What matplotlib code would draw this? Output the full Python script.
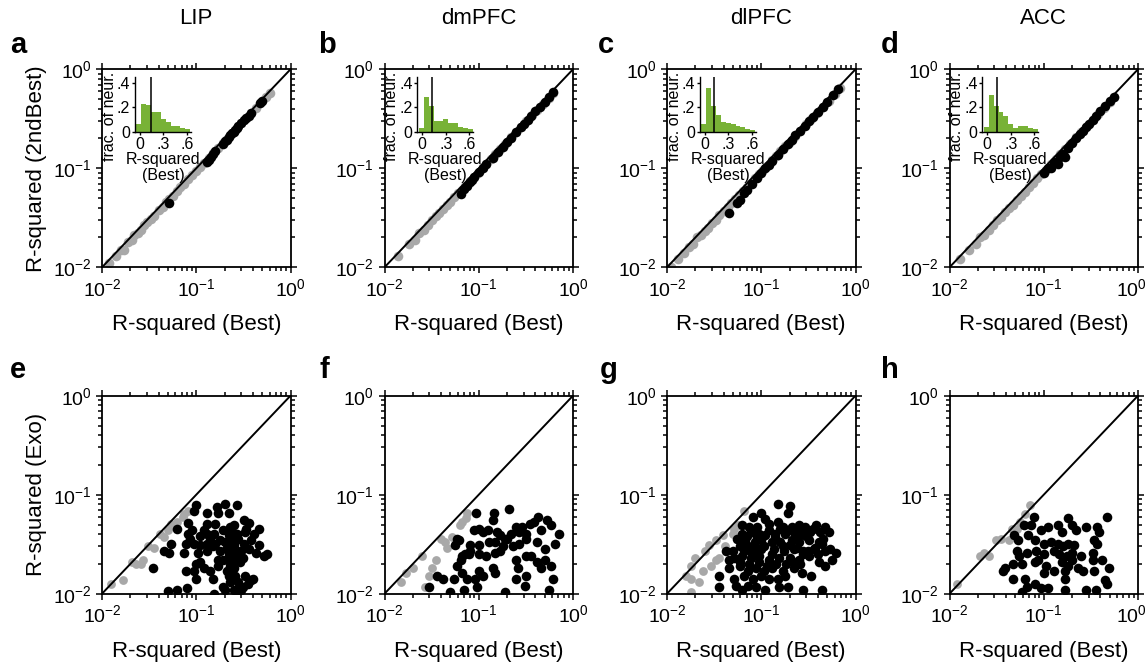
import numpy as np
import matplotlib.pyplot as plt
from matplotlib.transforms import ScaledTranslation

plt.rcParams['font.family'] = ['Liberation Sans', 'DejaVu Sans']
plt.rcParams['mathtext.fontset'] = 'custom'
plt.rcParams['mathtext.rm'] = 'Liberation Sans'
plt.rcParams['mathtext.it'] = 'Liberation Sans:italic'
plt.rcParams['mathtext.bf'] = 'Liberation Sans:bold'

# ---------------- data ----------------
areas = ['LIP', 'dmPFC', 'dlPFC', 'ACC']
top_letters = ['a', 'b', 'c', 'd']
bot_letters = ['e', 'f', 'g', 'h']

tick_vals = [0.01, 0.1, 1.0]
tick_labels = [r'$10^{-2}$', r'$10^{-1}$', r'$10^{0}$']

# inset histograms: R-squared (Best), fraction of neurons
hist_bins = [-0.01, 0.052, 0.114, 0.176, 0.238, 0.30, 0.362, 0.424, 0.486, 0.548, 0.61]
hist_width = 0.062
lip_hist = [0.06, 0.23, 0.22, 0.16, 0.16, 0.10, 0.08, 0.05, 0.05, 0.03, 0.02]
dmpfc_hist = [0.03, 0.28, 0.21, 0.09, 0.09, 0.10, 0.07, 0.07, 0.04, 0.03, 0.02]
dlpfc_hist = [0.06, 0.36, 0.21, 0.14, 0.08, 0.07, 0.06, 0.05, 0.04, 0.02, 0.01]
acc_hist = [0.04, 0.30, 0.21, 0.16, 0.13, 0.06, 0.03, 0.05, 0.045, 0.03, 0.02]
hist_medians = [0.15, 0.13, 0.12, 0.13]

# top row: Best vs 2ndBest
lip_top_gray_x = [0.012, 0.014, 0.016, 0.017, 0.019, 0.021, 0.022, 0.024, 0.026, 0.028,
                  0.030, 0.033, 0.036, 0.040, 0.044, 0.048, 0.052, 0.057, 0.062, 0.068,
                  0.075, 0.082, 0.090, 0.10, 0.11, 0.12, 0.135, 0.15, 0.17, 0.19,
                  0.21, 0.24, 0.27, 0.30, 0.34, 0.38, 0.43, 0.49, 0.55, 0.60]
lip_top_gray_y = [0.011, 0.013, 0.015, 0.015, 0.018, 0.019, 0.021, 0.022, 0.024, 0.027,
                  0.029, 0.031, 0.033, 0.038, 0.041, 0.046, 0.049, 0.053, 0.059, 0.064,
                  0.070, 0.078, 0.085, 0.094, 0.104, 0.113, 0.127, 0.142, 0.160, 0.180,
                  0.198, 0.226, 0.256, 0.285, 0.322, 0.360, 0.41, 0.47, 0.53, 0.58]
lip_top_black_x = [0.052, 0.13, 0.135, 0.145, 0.15, 0.16, 0.19, 0.2, 0.21, 0.22, 0.23, 0.24,
                   0.25, 0.26, 0.27, 0.28, 0.3, 0.32, 0.34, 0.36, 0.38, 0.48, 0.5]
lip_top_black_y = [0.045, 0.115, 0.12, 0.13, 0.138, 0.148, 0.178, 0.188, 0.195, 0.205, 0.215, 0.225,
                   0.235, 0.245, 0.255, 0.265, 0.285, 0.305, 0.32, 0.34, 0.36, 0.46, 0.48]

dmpfc_top_gray_x = [0.014, 0.018, 0.021, 0.023, 0.026, 0.029, 0.032, 0.035, 0.038, 0.042,
                    0.046, 0.05, 0.055, 0.06, 0.066, 0.072, 0.08, 0.088, 0.097, 0.11,
                    0.12, 0.135, 0.15, 0.17, 0.19, 0.22, 0.25, 0.28, 0.32, 0.37,
                    0.42, 0.48, 0.55, 0.62]
dmpfc_top_gray_y = [0.013, 0.017, 0.019, 0.022, 0.024, 0.027, 0.030, 0.033, 0.035, 0.039,
                    0.043, 0.046, 0.051, 0.056, 0.061, 0.067, 0.074, 0.082, 0.090, 0.102,
                    0.111, 0.125, 0.139, 0.158, 0.177, 0.205, 0.233, 0.26, 0.30, 0.345,
                    0.39, 0.45, 0.51, 0.58]
dmpfc_top_black_x = [0.065, 0.07, 0.075, 0.08, 0.085, 0.09, 0.1, 0.11, 0.12, 0.14, 0.16, 0.18,
                     0.2, 0.22, 0.25, 0.28, 0.3, 0.33, 0.36, 0.4, 0.45, 0.5, 0.55, 0.62]
dmpfc_top_black_y = [0.055, 0.062, 0.066, 0.072, 0.077, 0.081, 0.091, 0.1, 0.11, 0.128, 0.147, 0.166,
                     0.185, 0.204, 0.232, 0.26, 0.28, 0.31, 0.335, 0.375, 0.42, 0.47, 0.52, 0.59]

dlpfc_top_gray_x = [0.011, 0.013, 0.015, 0.017, 0.019, 0.021, 0.023, 0.025, 0.027, 0.03,
                    0.033, 0.036, 0.04, 0.044, 0.048, 0.053, 0.058, 0.064, 0.07, 0.077,
                    0.085, 0.094, 0.105, 0.115, 0.13, 0.145, 0.16, 0.18, 0.2, 0.23,
                    0.26, 0.3, 0.34, 0.39, 0.45, 0.52, 0.6, 0.68]
dlpfc_top_gray_y = [0.010, 0.012, 0.014, 0.016, 0.017, 0.020, 0.021, 0.023, 0.025, 0.028,
                    0.030, 0.034, 0.037, 0.041, 0.045, 0.049, 0.054, 0.059, 0.065, 0.071,
                    0.079, 0.087, 0.097, 0.106, 0.12, 0.134, 0.148, 0.167, 0.185, 0.213,
                    0.24, 0.28, 0.315, 0.36, 0.42, 0.48, 0.56, 0.64]
dlpfc_top_black_x = [0.045, 0.055, 0.06, 0.065, 0.07, 0.08, 0.09, 0.1, 0.11, 0.12, 0.13, 0.15, 0.17,
                     0.19, 0.21, 0.23, 0.26, 0.29, 0.32, 0.35, 0.4, 0.45, 0.5, 0.58, 0.66]
dlpfc_top_black_y = [0.035, 0.045, 0.048, 0.056, 0.06, 0.07, 0.08, 0.09, 0.1, 0.108, 0.118, 0.137, 0.155,
                     0.175, 0.195, 0.215, 0.24, 0.27, 0.3, 0.33, 0.37, 0.42, 0.47, 0.55, 0.63]

acc_top_gray_x = [0.013, 0.016, 0.019, 0.021, 0.023, 0.026, 0.029, 0.032, 0.035, 0.039,
                  0.043, 0.047, 0.052, 0.057, 0.063, 0.07, 0.077, 0.085, 0.094, 0.105,
                  0.12, 0.135, 0.15, 0.17, 0.19, 0.22, 0.25, 0.29, 0.33, 0.38,
                  0.44, 0.5, 0.56]
acc_top_gray_y = [0.012, 0.015, 0.017, 0.020, 0.021, 0.024, 0.027, 0.030, 0.032, 0.036,
                  0.040, 0.043, 0.048, 0.053, 0.058, 0.065, 0.071, 0.079, 0.087, 0.097,
                  0.111, 0.125, 0.139, 0.158, 0.177, 0.205, 0.233, 0.27, 0.31, 0.355,
                  0.41, 0.47, 0.53]
acc_top_black_x = [0.1, 0.11, 0.12, 0.13, 0.14, 0.15, 0.16, 0.17, 0.18, 0.2, 0.22,
                   0.24, 0.26, 0.28, 0.3, 0.33, 0.36, 0.4, 0.45, 0.5, 0.55]
acc_top_black_y = [0.09, 0.1, 0.1, 0.115, 0.11, 0.13, 0.14, 0.13, 0.16, 0.18, 0.2,
                   0.22, 0.24, 0.26, 0.28, 0.31, 0.34, 0.38, 0.43, 0.48, 0.53]

# bottom row: Best vs Exo
lip_bot_gray_x = [0.0125, 0.0167, 0.021, 0.026, 0.031, 0.036, 0.041, 0.046, 0.05, 0.054,
                  0.063, 0.072, 0.081, 0.075, 0.059, 0.023, 0.027]
lip_bot_gray_y = [0.0124, 0.0137, 0.021, 0.020, 0.030, 0.029, 0.040, 0.037, 0.044, 0.051,
                  0.053, 0.060, 0.069, 0.064, 0.047, 0.020, 0.022]
lip_bot_black_x = [0.10, 0.095, 0.13, 0.165, 0.20, 0.27, 0.22, 0.17, 0.082, 0.09,
                   0.063, 0.13, 0.16, 0.19, 0.23, 0.25, 0.32, 0.36, 0.46, 0.33,
                   0.27, 0.22, 0.078, 0.095, 0.11, 0.13, 0.16, 0.20, 0.25, 0.32,
                   0.38, 0.46, 0.046, 0.052, 0.074, 0.104, 0.13, 0.15, 0.18, 0.22,
                   0.30, 0.43, 0.52, 0.57, 0.054, 0.081, 0.13, 0.155, 0.10, 0.11,
                   0.095, 0.12, 0.14, 0.17, 0.19, 0.215, 0.23, 0.26, 0.31, 0.21,
                   0.23, 0.15, 0.10, 0.035, 0.078, 0.05, 0.063, 0.08, 0.155, 0.19,
                   0.20, 0.25, 0.27, 0.31, 0.35, 0.38, 0.23, 0.30, 0.23, 0.245,
                   0.225, 0.25, 0.22, 0.28, 0.26, 0.24, 0.34, 0.29, 0.33, 0.40,
                   0.27, 0.24, 0.21, 0.18, 0.14, 0.12, 0.28, 0.26, 0.17, 0.085,
                   0.11, 0.36, 0.41]
lip_bot_black_y = [0.078, 0.069, 0.066, 0.075, 0.081, 0.079, 0.066, 0.066, 0.052, 0.044,
                   0.045, 0.051, 0.051, 0.044, 0.047, 0.049, 0.055, 0.052, 0.045, 0.042,
                   0.040, 0.039, 0.032, 0.032, 0.031, 0.032, 0.032, 0.033, 0.032, 0.032,
                   0.035, 0.031, 0.027, 0.026, 0.026, 0.026, 0.027, 0.030, 0.027, 0.026,
                   0.027, 0.026, 0.024, 0.025, 0.032, 0.040, 0.040, 0.040, 0.020, 0.021,
                   0.017, 0.018, 0.017, 0.022, 0.022, 0.022, 0.019, 0.022, 0.023, 0.017,
                   0.016, 0.014, 0.014, 0.018, 0.017, 0.0106, 0.011, 0.0115, 0.010, 0.0117,
                   0.0108, 0.011, 0.011, 0.0117, 0.0126, 0.0137, 0.013, 0.0108, 0.036, 0.030,
                   0.024, 0.018, 0.015, 0.036, 0.028, 0.042, 0.045, 0.021, 0.015, 0.014,
                   0.025, 0.020, 0.029, 0.035, 0.036, 0.044, 0.013, 0.015, 0.019, 0.036,
                   0.038, 0.028, 0.040]

dmpfc_bot_gray_x = [0.017, 0.025, 0.027, 0.032, 0.035, 0.046, 0.044, 0.040, 0.063, 0.066,
                    0.075, 0.074, 0.052, 0.015, 0.020, 0.030]
dmpfc_bot_gray_y = [0.016, 0.024, 0.0118, 0.018, 0.022, 0.029, 0.033, 0.036, 0.049, 0.053,
                    0.066, 0.058, 0.037, 0.013, 0.018, 0.015]
dmpfc_bot_black_x = [0.094, 0.14, 0.21, 0.145, 0.059, 0.061, 0.056, 0.088, 0.10, 0.11,
                     0.125, 0.155, 0.17, 0.19, 0.15, 0.13, 0.10, 0.08, 0.08, 0.078,
                     0.067, 0.065, 0.059, 0.072, 0.10, 0.12, 0.15, 0.17, 0.18, 0.23,
                     0.25, 0.27, 0.29, 0.32, 0.35, 0.39, 0.43, 0.46, 0.53, 0.59,
                     0.71, 0.65, 0.51, 0.41, 0.32, 0.27, 0.25, 0.32, 0.36, 0.41,
                     0.50, 0.59, 0.46, 0.26, 0.32, 0.25, 0.31, 0.61, 0.55, 0.15,
                     0.14, 0.10, 0.11, 0.092, 0.096, 0.075, 0.067, 0.054, 0.042, 0.036,
                     0.030, 0.05, 0.069, 0.19, 0.20, 0.22]
dmpfc_bot_black_y = [0.066, 0.056, 0.071, 0.066, 0.036, 0.035, 0.031, 0.044, 0.045, 0.042,
                     0.044, 0.042, 0.039, 0.036, 0.033, 0.033, 0.031, 0.031, 0.027, 0.025,
                     0.024, 0.022, 0.019, 0.025, 0.025, 0.024, 0.026, 0.027, 0.030, 0.030,
                     0.047, 0.042, 0.047, 0.040, 0.051, 0.053, 0.060, 0.044, 0.055, 0.049,
                     0.040, 0.032, 0.028, 0.033, 0.036, 0.032, 0.022, 0.024, 0.024, 0.021,
                     0.022, 0.019, 0.018, 0.018, 0.015, 0.014, 0.012, 0.014, 0.011, 0.016,
                     0.018, 0.017, 0.015, 0.014, 0.0117, 0.014, 0.016, 0.014, 0.014, 0.015,
                     0.0118, 0.0105, 0.011, 0.0104, 0.036, 0.040]

dlpfc_bot_gray_x = [0.018, 0.018, 0.022, 0.024, 0.029, 0.033, 0.036, 0.018, 0.020, 0.025,
                    0.028, 0.033, 0.039, 0.041, 0.05, 0.052, 0.056, 0.066, 0.016]
dlpfc_bot_gray_y = [0.0104, 0.014, 0.013, 0.017, 0.019, 0.022, 0.023, 0.019, 0.023, 0.027,
                    0.031, 0.035, 0.039, 0.030, 0.040, 0.045, 0.049, 0.069, 0.015]
dlpfc_bot_black_x = [0.15, 0.20, 0.19, 0.10, 0.081, 0.11, 0.063, 0.075, 0.09, 0.12,
                     0.15, 0.17, 0.21, 0.25, 0.29, 0.38, 0.48, 0.52, 0.42, 0.33,
                     0.27, 0.22, 0.18, 0.14, 0.12, 0.094, 0.078, 0.063, 0.055, 0.068,
                     0.085, 0.10, 0.13, 0.16, 0.21, 0.25, 0.32, 0.41, 0.44, 0.53,
                     0.62, 0.48, 0.36, 0.28, 0.22, 0.175, 0.135, 0.108, 0.087, 0.072,
                     0.059, 0.05, 0.042, 0.052, 0.063, 0.078, 0.094, 0.12, 0.155, 0.20,
                     0.25, 0.32, 0.41, 0.48, 0.56, 0.046, 0.059, 0.072, 0.087, 0.108,
                     0.13, 0.17, 0.22, 0.27, 0.34, 0.036, 0.052, 0.066, 0.081, 0.10,
                     0.12, 0.15, 0.18, 0.036, 0.063, 0.087, 0.11, 0.155, 0.19, 0.28,
                     0.44, 0.054, 0.072, 0.046,
                     0.07, 0.09, 0.11, 0.14, 0.16, 0.19, 0.23, 0.26, 0.3, 0.35,
                     0.065, 0.08, 0.1, 0.13, 0.17, 0.2, 0.24, 0.28, 0.31, 0.37,
                     0.06, 0.075, 0.095, 0.115, 0.145, 0.185, 0.215, 0.26, 0.4, 0.45]
dlpfc_bot_black_y = [0.080, 0.077, 0.065, 0.065, 0.059, 0.057, 0.049, 0.047, 0.047, 0.051,
                     0.053, 0.047, 0.047, 0.049, 0.047, 0.049, 0.047, 0.042, 0.042, 0.042,
                     0.040, 0.042, 0.040, 0.040, 0.044, 0.040, 0.042, 0.040, 0.036, 0.035,
                     0.033, 0.035, 0.033, 0.033, 0.035, 0.033, 0.035, 0.033, 0.032, 0.028,
                     0.026, 0.027, 0.028, 0.027, 0.028, 0.027, 0.028, 0.030, 0.029, 0.030,
                     0.030, 0.027, 0.027, 0.023, 0.024, 0.023, 0.024, 0.022, 0.023, 0.023,
                     0.022, 0.024, 0.021, 0.019, 0.022, 0.018, 0.019, 0.017, 0.018, 0.017,
                     0.018, 0.017, 0.018, 0.016, 0.015, 0.015, 0.014, 0.015, 0.014, 0.015,
                     0.014, 0.014, 0.015, 0.0117, 0.011, 0.0117, 0.0108, 0.0117, 0.0117, 0.0108,
                     0.011, 0.012, 0.012, 0.022,
                     0.038, 0.037, 0.039, 0.037, 0.045, 0.044, 0.039, 0.043, 0.038, 0.045,
                     0.027, 0.026, 0.028, 0.025, 0.030, 0.031, 0.029, 0.025, 0.027, 0.029,
                     0.021, 0.020, 0.021, 0.019, 0.020, 0.020, 0.021, 0.020, 0.025, 0.036]

acc_bot_gray_x = [0.012, 0.021, 0.026, 0.023, 0.031, 0.035, 0.043, 0.046, 0.052, 0.056,
                  0.063, 0.072]
acc_bot_gray_y = [0.0124, 0.024, 0.024, 0.026, 0.035, 0.036, 0.035, 0.045, 0.045, 0.053,
                  0.064, 0.078]
acc_bot_black_x = [0.078, 0.18, 0.47, 0.061, 0.074, 0.094, 0.11, 0.14, 0.155, 0.20,
                   0.22, 0.28, 0.37, 0.39, 0.048, 0.053, 0.068, 0.081, 0.10, 0.12,
                   0.14, 0.16, 0.18, 0.21, 0.34, 0.37, 0.052, 0.066, 0.083, 0.10,
                   0.13, 0.145, 0.175, 0.20, 0.25, 0.33, 0.054, 0.047, 0.059, 0.08,
                   0.087, 0.105, 0.155, 0.18, 0.20, 0.33, 0.41, 0.49, 0.037, 0.039,
                   0.10, 0.13, 0.17, 0.23, 0.26, 0.34, 0.047, 0.064, 0.066, 0.08,
                   0.094, 0.11, 0.17, 0.17, 0.28, 0.36, 0.45, 0.47, 0.059]
acc_bot_black_y = [0.059, 0.058, 0.059, 0.049, 0.049, 0.044, 0.047, 0.049, 0.042, 0.049,
                   0.044, 0.047, 0.047, 0.042, 0.039, 0.035, 0.039, 0.035, 0.032, 0.033,
                   0.032, 0.030, 0.032, 0.031, 0.035, 0.032, 0.027, 0.026, 0.027, 0.025,
                   0.027, 0.025, 0.024, 0.026, 0.024, 0.026, 0.024, 0.020, 0.020, 0.021,
                   0.022, 0.019, 0.021, 0.019, 0.022, 0.022, 0.022, 0.018, 0.017, 0.018,
                   0.016, 0.017, 0.017, 0.018, 0.017, 0.017, 0.014, 0.014, 0.0117, 0.0126,
                   0.0113, 0.0113, 0.014, 0.011, 0.0108, 0.011, 0.0137, 0.0126, 0.0104]

top_gray = [(lip_top_gray_x, lip_top_gray_y), (dmpfc_top_gray_x, dmpfc_top_gray_y),
            (dlpfc_top_gray_x, dlpfc_top_gray_y), (acc_top_gray_x, acc_top_gray_y)]
top_black = [(lip_top_black_x, lip_top_black_y), (dmpfc_top_black_x, dmpfc_top_black_y),
             (dlpfc_top_black_x, dlpfc_top_black_y), (acc_top_black_x, acc_top_black_y)]
bot_gray = [(lip_bot_gray_x, lip_bot_gray_y), (dmpfc_bot_gray_x, dmpfc_bot_gray_y),
            (dlpfc_bot_gray_x, dlpfc_bot_gray_y), (acc_bot_gray_x, acc_bot_gray_y)]
bot_black = [(lip_bot_black_x, lip_bot_black_y), (dmpfc_bot_black_x, dmpfc_bot_black_y),
             (dlpfc_bot_black_x, dlpfc_bot_black_y), (acc_bot_black_x, acc_bot_black_y)]
hists = [lip_hist, dmpfc_hist, dlpfc_hist, acc_hist]

# ---------------- styles ----------------
GRAY = '#a8a8a8'
GREEN = '#78b236'
LABEL_FS = 16
TICK_FS = 14
INSET_FS = 11.5

W, H = 1146, 663
fig = plt.figure(figsize=(W / 100, H / 100), dpi=100)

col_left = [102, 384.5, 667, 949.5]
ax_w = 188.5
ax_h = 198
row_top = [69.3, 395.7]


def style_main(ax):
    ax.set_xscale('log')
    ax.set_yscale('log')
    ax.set_xlim(0.01, 1)
    ax.set_ylim(0.01, 1)
    ax.set_xticks(tick_vals)
    ax.set_xticklabels(tick_labels)
    ax.set_yticks(tick_vals)
    ax.set_yticklabels(tick_labels)
    ax.tick_params(which='both', direction='out', top=True, right=True,
                   labeltop=False, labelright=False, width=1.1)
    ax.tick_params(which='major', length=4.5, labelsize=TICK_FS, pad=3)
    ax.tick_params(which='minor', length=3)
    for s in ax.spines.values():
        s.set_linewidth(1.3)
    ax.plot([0.01, 1], [0.01, 1], color='k', lw=1.4, zorder=3)


def draw_inset(ax, heights, med):
    ins = ax.inset_axes([0.175, 0.685, 0.296, 0.278])
    ins.bar(hist_bins, heights, width=hist_width, color=GREEN, linewidth=0)
    ins.plot([med, med], [0, 0.45], color='k', lw=1.1)
    ins.set_xlim(-0.06, 0.65)
    ins.set_ylim(0, 0.45)
    ins.set_xticks([0, 0.3, 0.6])
    ins.set_xticklabels(['0', '.3', '.6'])
    ins.set_yticks([0, 0.2, 0.4])
    ins.set_yticklabels(['0', '.2', '.4'])
    ins.spines['top'].set_visible(False)
    ins.spines['right'].set_visible(False)
    ins.spines['left'].set_linewidth(1.0)
    ins.spines['bottom'].set_linewidth(1.0)
    ins.patch.set_alpha(0)
    ins.tick_params(labelsize=INSET_FS, length=2.5, width=1.0, pad=1)
    ins.set_ylabel('frac. of neur.', fontsize=11.5, va='center')
    ins.yaxis.set_label_coords(-0.46, 0.28)
    ins.set_xlabel('R-squared\n(Best)', fontsize=INSET_FS, labelpad=0, linespacing=1.1)


for r in range(2):
    for c in range(4):
        left = col_left[c] / W
        bottom = 1 - (row_top[r] + ax_h) / H
        ax = fig.add_axes([left, bottom, ax_w / W, ax_h / H])
        style_main(ax)
        if r == 0:
            gx, gy = top_gray[c]
            bx, by = top_black[c]
            ax.scatter(gx, gy, s=48, color=GRAY, linewidths=0, zorder=2)
            ax.scatter(bx, by, s=48, color='k', linewidths=0, zorder=4)
            draw_inset(ax, hists[c], hist_medians[c])
        else:
            gx, gy = bot_gray[c]
            bx, by = bot_black[c]
            ax.scatter(gx, gy, s=40, color=GRAY, linewidths=0, zorder=2)
            ax.scatter(bx, by, s=48, color='k', linewidths=0, zorder=4)
        ax.set_xlabel('R-squared (Best)', fontsize=LABEL_FS, va='center')
        ax.xaxis.set_label_coords(0.5, -0.29)
        if c == 0:
            ax.set_ylabel('R-squared (2ndBest)' if r == 0 else 'R-squared (Exo)',
                          fontsize=LABEL_FS, va='center')
            ax.yaxis.set_label_coords(-0.345, 0.5)
        if c == 3:
            # keep the last 10^0 label inside the canvas
            fig.canvas.draw()
            lab = ax.get_xticklabels()[-1]
            lab.set_transform(lab.get_transform() +
                              ScaledTranslation(-7 / 100, 0, fig.dpi_scale_trans))
        if r == 0:
            fig.text(left + ax_w / W / 2, 1 - 18 / H, areas[c], fontsize=LABEL_FS,
                     ha='center', va='center')

top_letter_x = [10, 318, 598, 881]
bot_letter_x = [10, 320, 600, 881]
for c in range(4):
    fig.text(top_letter_x[c] / W, 1 - 53 / H, top_letters[c], fontsize=21,
             fontweight='bold', ha='left', va='baseline')
    fig.text(bot_letter_x[c] / W, 1 - 378 / H, bot_letters[c], fontsize=21,
             fontweight='bold', ha='left', va='baseline')

fig.savefig('out.png', dpi=100)
